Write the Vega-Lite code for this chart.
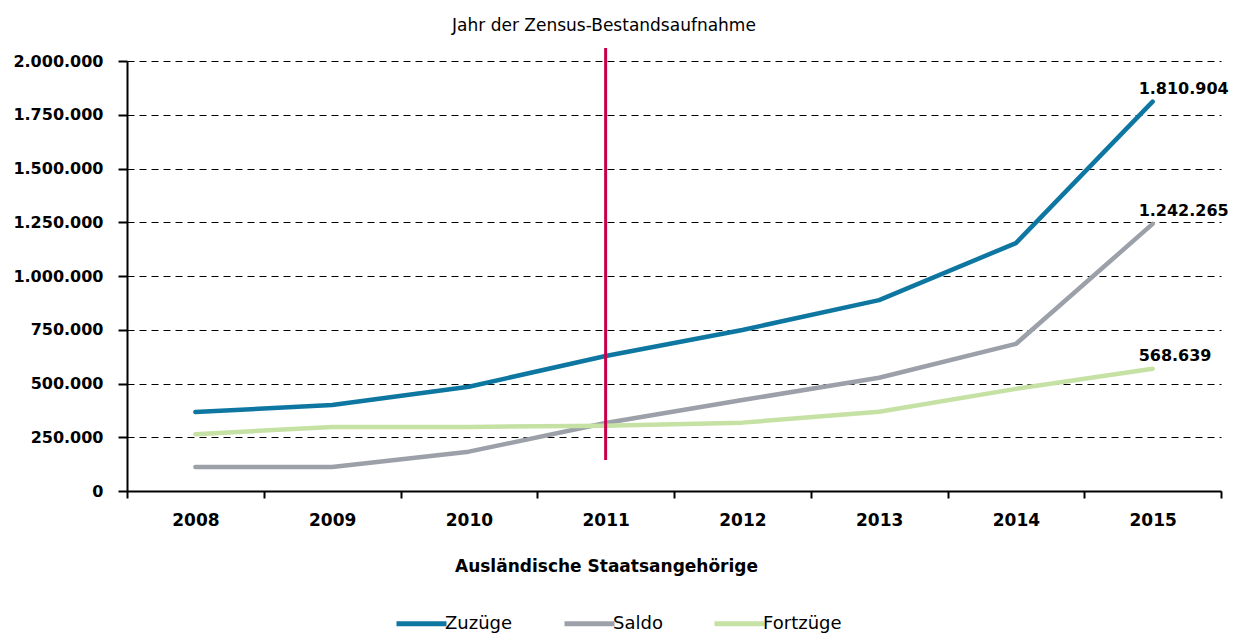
{
  "$schema": "https://vega.github.io/schema/vega-lite/v6.json",
  "width": 1094,
  "height": 430,
  "autosize": {"type": "none"},
  "padding": {"left": 127, "top": 61, "right": 27, "bottom": 142},
  "background": "white",
  "config": {
    "locale": {"number": {"decimal": ",", "thousands": ".", "grouping": [3], "currency": ["", " €"]}},
    "font": "DejaVu Sans",
    "view": {"stroke": null}
  },
  "title": {
    "text": "Jahr der Zensus-Bestandsaufnahme",
    "anchor": "middle",
    "frame": "group",
    "dx": -70,
    "fontSize": 17,
    "fontWeight": "normal",
    "font": "DejaVu Sans",
    "color": "black",
    "offset": -1,
    "baseline": "alphabetic"
  },
  "datasets": {
    "series": [
      {"year": "2008", "series": "Zuzüge", "value": 367000},
      {"year": "2009", "series": "Zuzüge", "value": 400000},
      {"year": "2010", "series": "Zuzüge", "value": 485000},
      {"year": "2011", "series": "Zuzüge", "value": 628000},
      {"year": "2012", "series": "Zuzüge", "value": 749000},
      {"year": "2013", "series": "Zuzüge", "value": 888000},
      {"year": "2014", "series": "Zuzüge", "value": 1153000},
      {"year": "2015", "series": "Zuzüge", "value": 1810904},
      {"year": "2008", "series": "Saldo", "value": 112000},
      {"year": "2009", "series": "Saldo", "value": 112000},
      {"year": "2010", "series": "Saldo", "value": 183000},
      {"year": "2011", "series": "Saldo", "value": 316000},
      {"year": "2012", "series": "Saldo", "value": 423000},
      {"year": "2013", "series": "Saldo", "value": 527000},
      {"year": "2014", "series": "Saldo", "value": 684000},
      {"year": "2015", "series": "Saldo", "value": 1242265},
      {"year": "2008", "series": "Fortzüge", "value": 264000},
      {"year": "2009", "series": "Fortzüge", "value": 298000},
      {"year": "2010", "series": "Fortzüge", "value": 298000},
      {"year": "2011", "series": "Fortzüge", "value": 304000},
      {"year": "2012", "series": "Fortzüge", "value": 318000},
      {"year": "2013", "series": "Fortzüge", "value": 369000},
      {"year": "2014", "series": "Fortzüge", "value": 475000},
      {"year": "2015", "series": "Fortzüge", "value": 568639}
    ],
    "marker": [
      {"year": "2011", "y0": 144000, "y1": 2060000}
    ]
  },
  "layer": [
    {
      "data": {"name": "series"},
      "mark": {"type": "line", "strokeWidth": 4.5, "strokeCap": "round", "strokeJoin": "round"},
      "encoding": {
        "x": {
          "field": "year",
          "type": "ordinal",
          "bandPosition": 0.5,
          "scale": {"type": "band", "paddingInner": 0, "paddingOuter": 0},
          "axis": {
            "title": "Ausländische Staatsangehörige",
            "titleFont": "DejaVu Sans",
            "titleFontSize": 17,
            "titleFontWeight": "bold",
            "titleColor": "black",
            "titleX": 479,
            "titleY": 80,
            "titleAlign": "center",
            "titleBaseline": "alphabetic",
            "labelAngle": 0,
            "labelFont": "DejaVu Sans",
            "labelFontSize": 17,
            "labelFontWeight": "bold",
            "labelColor": "black",
            "labelPadding": 14,
            "tickBand": "extent",
            "tickSize": 7,
            "tickWidth": 2,
            "tickColor": "black",
            "domainColor": "black",
            "domainWidth": 2,
            "grid": false
          }
        },
        "y": {
          "field": "value",
          "type": "quantitative",
          "scale": {"domain": [0, 2000000], "nice": false},
          "axis": {
            "title": null,
            "values": [0, 250000, 500000, 750000, 1000000, 1250000, 1500000, 1750000, 2000000],
            "format": ",d",
            "labelFont": "DejaVu Sans",
            "labelFontSize": 16,
            "labelFontWeight": "bold",
            "labelColor": "black",
            "labelPadding": 15,
            "tickSize": 9,
            "tickWidth": 2,
            "tickColor": "black",
            "domainColor": "black",
            "domainWidth": 2,
            "grid": true,
            "gridColor": "black",
            "gridWidth": 1,
            "gridDash": [7, 5],
            "gridOpacity": 1
          }
        },
        "color": {
          "field": "series",
          "type": "nominal",
          "scale": {"domain": ["Zuzüge", "Saldo", "Fortzüge"], "range": ["#0e77a1", "#9ca0a8", "#c6e1a4"]},
          "legend": {
            "title": null,
            "orient": "none",
            "legendX": 267,
            "legendY": 535,
            "direction": "horizontal",
            "symbolType": "stroke",
            "symbolSize": 2500,
            "symbolStrokeWidth": 5,
            "labelFont": "DejaVu Sans",
            "labelFontSize": 18,
            "labelColor": "black",
            "labelOffset": -4,
            "columnPadding": 41,
            "padding": 0
          }
        }
      }
    },
    {
      "data": {"name": "marker"},
      "mark": {"type": "rule", "color": "#c8004b", "strokeWidth": 3},
      "encoding": {
        "x": {"field": "year", "type": "ordinal", "bandPosition": 0.5},
        "y": {"field": "y0", "type": "quantitative"},
        "y2": {"field": "y1"}
      }
    },
    {
      "data": {"name": "series"},
      "transform": [{"filter": "datum.year == '2015'"}],
      "mark": {"type": "text", "align": "left", "baseline": "alphabetic", "dx": -14, "dy": -8, "font": "DejaVu Sans", "fontSize": 16, "fontWeight": "bold", "color": "black"},
      "encoding": {
        "x": {"field": "year", "type": "ordinal", "bandPosition": 0.5},
        "y": {"field": "value", "type": "quantitative"},
        "text": {"field": "value", "type": "quantitative", "format": ",d"}
      }
    }
  ]
}
